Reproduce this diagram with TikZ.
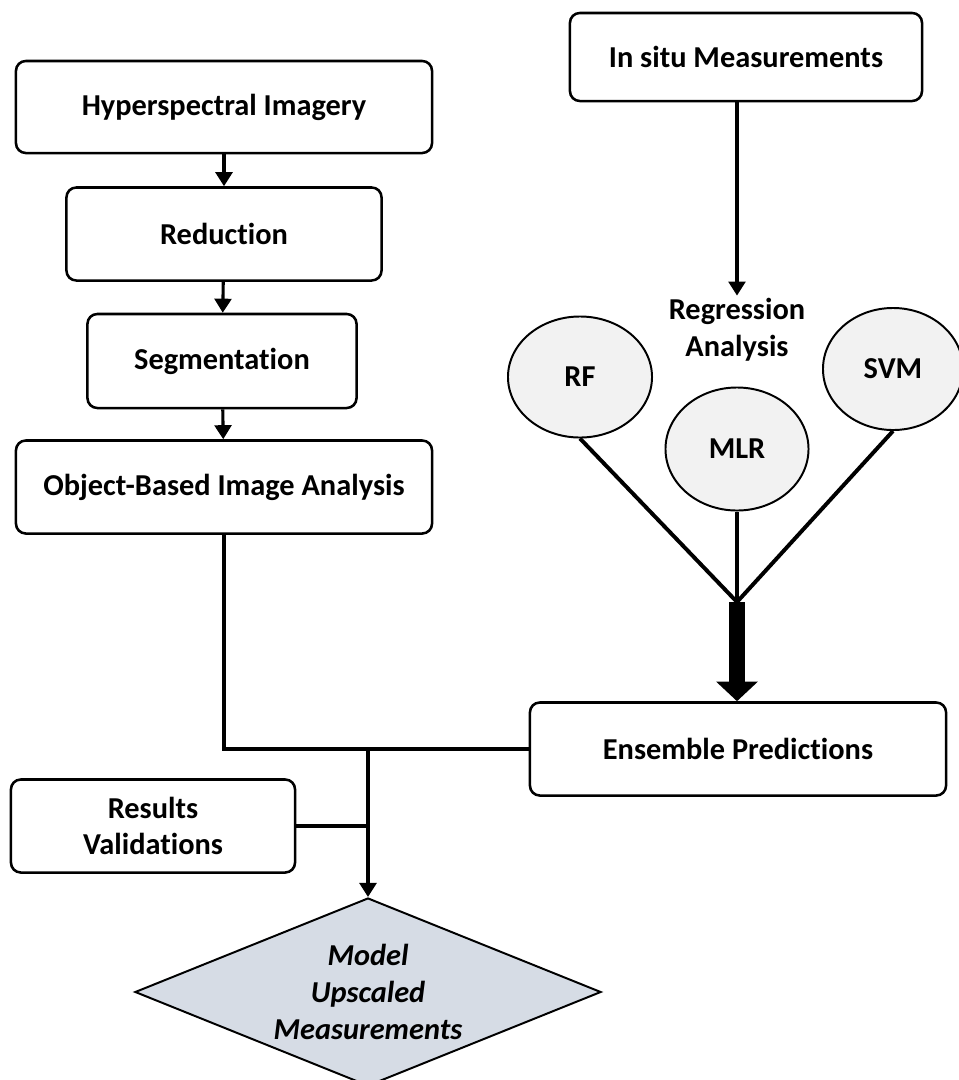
\documentclass[tikz,border=0pt]{standalone}
\usepackage{fontspec}
\setmainfont{Carlito}[Ligatures=NoCommon, Contextuals=NoAlternate]
\usepackage{tikz}
\usetikzlibrary{arrows.meta}
\usetikzlibrary{shapes.geometric}
\definecolor{ellgray}{HTML}{F2F2F2}
\definecolor{diabg}{HTML}{D6DCE5}
\newcommand{\flowfont}{\fontsize{21.6}{26}\selectfont\bfseries}
\tikzset{flow box/.style={draw, line width=1.8pt, rounded corners=7pt, align=center, inner sep=0}}
\tikzset{method/.style={draw, ellipse, line width=1.4pt, fill=ellgray, inner sep=0}}
\tikzset{outcome/.style={draw, diamond, aspect=2.48, line width=1.4pt, fill=diabg, inner sep=0, align=center, font=\flowfont\itshape}}
\tikzset{link/.style={draw, line width=2.2pt, -{Triangle[width=12pt,length=10pt]}}}
\tikzset{branch/.style={draw, line width=2.8pt}}

\begin{document}
\begin{tikzpicture}[x=0.025cm, y=-0.025cm, font=\flowfont]
  \useasboundingbox (0,0) rectangle (959,1080);

  % image processing chain
  \node[flow box, minimum width=10.4cm, minimum height=2.3cm] at (224, 107) (hyper) {Hyperspectral Imagery};
  \node[flow box, minimum width=7.875cm, minimum height=2.325cm] at (224, 234) (reduc) {Reduction};
  \node[flow box, minimum width=6.725cm, minimum height=2.35cm] at (222, 361) (segm) {Segmentation};
  \node[flow box, minimum width=10.4cm, minimum height=2.325cm] at (224, 487) (obia) {Object-Based Image Analysis};
  \draw[link] (hyper) -- (reduc);
  \draw[link] (reduc) -- (segm);
  \draw[link] (segm) -- (obia);

  % field data and regression models
  \node[flow box, minimum width=8.8cm, minimum height=2.2cm] at (746, 57) (insitu) {In situ Measurements};
  \node[align=center, inner sep=2pt] at (737, 330) (regr) {Regression\\Analysis};
  \draw[link] (insitu.south -| regr.north) -- (regr.north);
  \node[method, minimum width=3.6cm, minimum height=3.025cm] at (580, 377) (rf) {RF};
  \node[method, minimum width=3.575cm, minimum height=3.075cm] at (737, 449) (mlr) {MLR};
  \node[method, minimum width=3.5cm, minimum height=3.05cm] at (893, 369) (svm) {SVM};
  \coordinate (join) at (737, 602);
  \draw[branch] (rf.south) -- (join);
  \draw[branch] (mlr.south) -- (join);
  \draw[branch] (svm.south) -- (join);

  % ensemble and outcome
  \node[flow box, minimum width=10.4cm, minimum height=2.325cm] at (738, 749) (ensem) {Ensemble Predictions};
  \draw[line width=11pt, -{Triangle[width=29pt,length=14pt]}] (join) -- (join |- ensem.north);

  \node[flow box, minimum width=7.1cm, minimum height=2.325cm] at (153, 826) (resval) {Results\\Validations};
  \node[outcome, minimum width=11.65cm, minimum height=4.7cm] at (368, 992) (upsc) {Model\\Upscaled\\Measurements};
  \coordinate (merge) at (368, 749);
  \draw[line width=2.6pt] (obia.south) |- (ensem.west);
  \draw[link] (merge) -- (upsc.north);
  \draw[line width=2.6pt] (resval.east) -- (resval.east -| merge);
\end{tikzpicture}
\end{document}
